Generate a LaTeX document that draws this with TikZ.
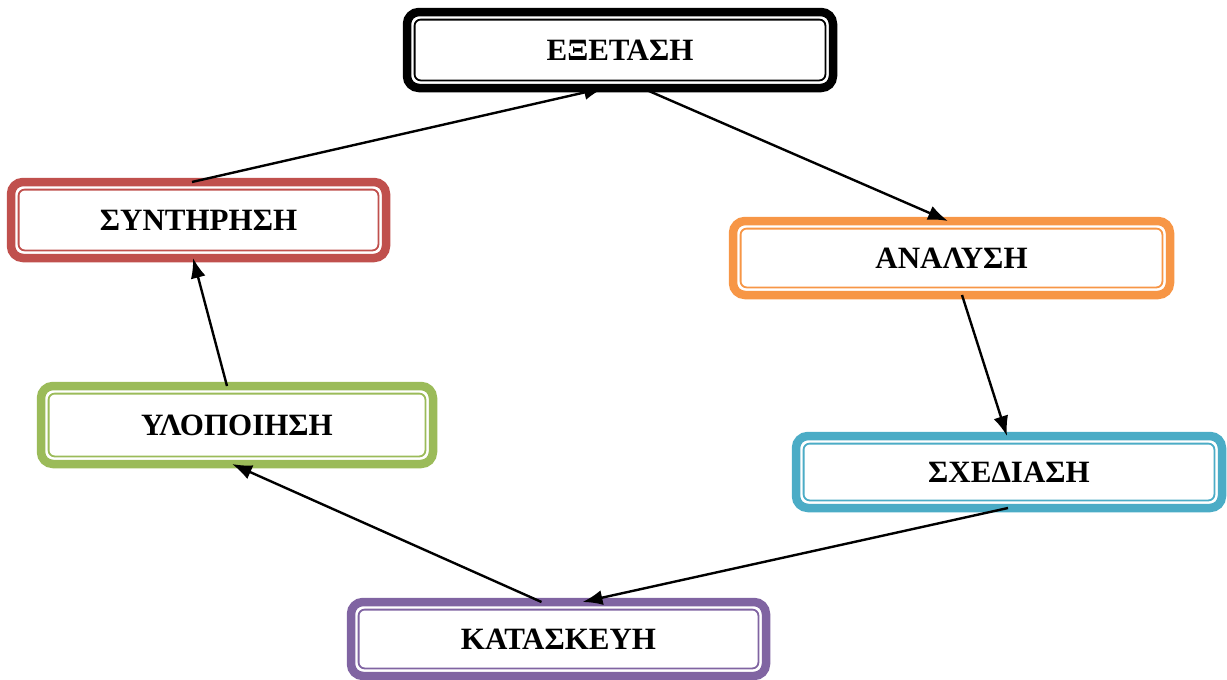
\documentclass[tikz,border=0pt]{standalone}
\usepackage{fontspec}
\setmainfont{Liberation Serif}
\usetikzlibrary{arrows.meta}
\definecolor{redline}{HTML}{C0504D}
\definecolor{orangeline}{HTML}{F79646}
\definecolor{greenline}{HTML}{9BBB59}
\definecolor{blueline}{HTML}{4BACC6}
\definecolor{purpleline}{HTML}{8064A2}

\begin{document}
\begin{tikzpicture}[x=1pt,y=-1pt,>={Latex[length=20pt,width=15pt]}]
      \tikzstyle{every node}=[font=\fontsize{31}{37}\selectfont\bfseries]
      \tikzstyle{phase}=[draw=#1,line width=8.5pt,rounded corners=12pt,fill=white,
                         outer sep=0pt,inner sep=2pt]
      \useasboundingbox (0,0) rectangle (1227,680);
      % 
      \node [phase=black,minimum width=426pt,minimum height=76pt]      (exet) at (620,50)    {ΕΞΕΤΑΣΗ};
      \node [phase=redline,minimum width=375pt,minimum height=76pt]    (synt) at (198.5,220) {ΣΥΝΤΗΡΗΣΗ};
      \node [phase=orangeline,minimum width=437pt,minimum height=74pt] (anal) at (951.5,258) {ΑΝΑΛΥΣΗ};
      \node [phase=greenline,minimum width=392pt,minimum height=78pt]  (ylop) at (237,425)   {ΥΛΟΠΟΙΗΣΗ};
      \node [phase=blueline,minimum width=426pt,minimum height=72pt]   (sxed) at (1009,472)  {ΣΧΕΔΙΑΣΗ};
      \node [phase=purpleline,minimum width=415pt,minimum height=74pt] (kata) at (558.5,639) {ΚΑΤΑΣΚΕΥΗ};
      % thin inner frame of every box
      \foreach \n/\c in {exet/black,synt/redline,anal/orangeline,ylop/greenline,sxed/blueline,kata/purpleline}
        \draw [\c,line width=1.8pt,rounded corners=6pt]
          ([shift={(7.6pt,-7.6pt)}]\n.north west) rectangle ([shift={(-7.6pt,7.6pt)}]\n.south east);
      % 
      \path[->,line width=2.4pt]
      ([xshift=-6.5pt]synt.north)  edge ([xshift=-16pt]exet.south)
      ([xshift=22pt]exet.south)    edge ([xshift=-3.5pt]anal.north)
      ([xshift=10.5pt]anal.south)  edge ([xshift=-2pt]sxed.north)
      ([xshift=-1pt]sxed.south)    edge ([xshift=24pt]kata.north)
      ([xshift=-17pt]kata.north)   edge ([xshift=-5pt]ylop.south)
      ([xshift=-10pt]ylop.north)   edge ([xshift=-5.5pt]synt.south);
\end{tikzpicture}
\end{document}
